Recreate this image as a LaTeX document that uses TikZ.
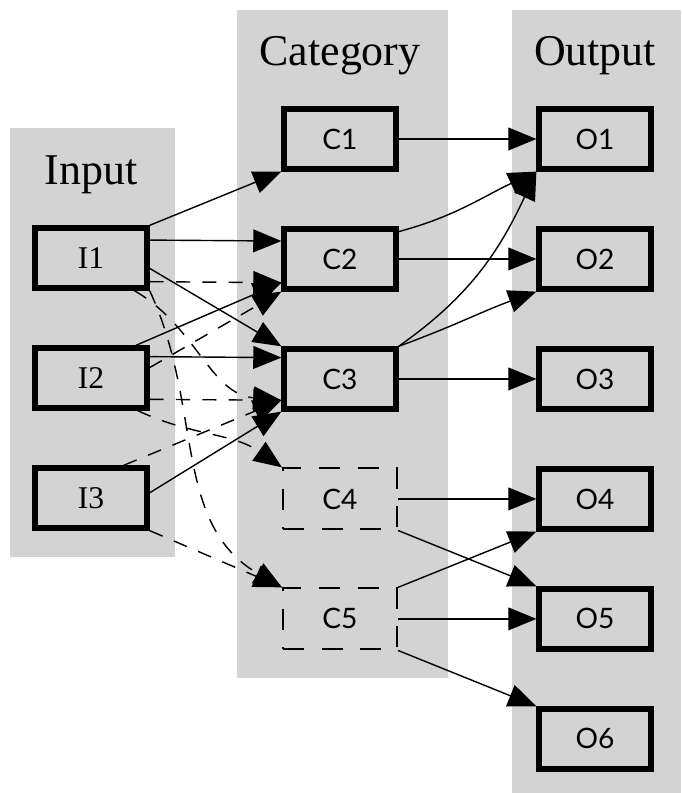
\documentclass[tikz,border=0pt]{standalone}
\usepackage{fontspec}
\setmainfont{Liberation Serif}
\newfontfamily\boxsans{Lato}
\usepackage{tikz}
\usetikzlibrary{positioning}
\usetikzlibrary{arrows.meta}
\definecolor{panelgray}{RGB}{211,211,211}
\tikzstyle{box} = [draw, line width=3pt, rectangle,
    minimum height=1.2cm, minimum width=2.24cm,
    font=\fontsize{18}{21}\selectfont]
\tikzstyle{sansbox} = [box, font=\boxsans\fontsize{16}{19}\selectfont]
\tikzstyle{dashbox} = [draw, line width=1.2pt, dash pattern=on 12pt off 10pt,
    rectangle, minimum height=1.22cm, minimum width=2.28cm,
    font=\boxsans\fontsize{16}{19}\selectfont]
\tikzstyle{title} = [font=\fontsize{25}{30}\selectfont, node distance=1.66cm]
\tikzstyle{link} = [line width=0.8pt, -{Triangle[length=16pt,width=13pt]}]
\tikzstyle{weaklink} = [link, dash pattern=on 8pt off 7pt]

\begin{document}
\begin{tikzpicture}[x=0.02cm, y=-0.02cm, node distance=2.4cm]
    \useasboundingbox (0,0) rectangle (681,793);
    % gray columns behind the three ranks
    \fill [panelgray] (10,128) rectangle (175,557);
    \fill [panelgray] (237,10) rectangle (448,678);
    \fill [panelgray] (512,10) rectangle (681,793);
    % We start by placing the blocks
    \node [box] (I1) at (91,258) {I1};
    \node [box, below of=I1] (I2) {I2};
    \node [box, below of=I2] (I3) {I3};
    \node [sansbox] (C1) at (340,139) {C1};
    \node [sansbox, below of=C1] (C2) {C2};
    \node [sansbox, below of=C2] (C3) {C3};
    \node [dashbox, below of=C3] (C4) {C4};
    \node [dashbox, below of=C4] (C5) {C5};
    \node [sansbox] (O1) at (595,139) {O1};
    \node [sansbox, below of=O1] (O2) {O2};
    \node [sansbox, below of=O2] (O3) {O3};
    \node [sansbox, below of=O3] (O4) {O4};
    \node [sansbox, below of=O4] (O5) {O5};
    \node [sansbox, below of=O5] (O6) {O6};
    % column titles
    \node [title, above of=I1] (input) {Input};
    \node [title, above of=C1] (category) {Category};
    \node [title, above of=O1] (output) {Output};
    % inputs to categories
    \draw [link] (I1.north east) -- (C1.south west);
    \draw [link] (I1.17) -- (C2.163);
    \draw [link] (I1.-10) -- (C3.north west);
    \draw [weaklink] (I1.-22) -- (C2.-158);
    \draw [weaklink] (I1.-37) to[out=-30,in=175] (C3.-160);
    \draw [weaklink] (I1.south east) to[out=-65,in=150] (C5.north west);
    \draw [link] (I2.36) -- (C2.-158);
    \draw [weaklink] (I2.10) -- (C2.south west);
    \draw [link] (I2.20) -- (C3.160);
    \draw [weaklink] (I2.-20) -- (C3.-160);
    \draw [weaklink] (I2.-35) to[out=-25,in=145] (C4.north west);
    \draw [weaklink] (I3.45) -- (C3.-160);
    \draw [link] (I3.5) -- (C3.south west);
    \draw [weaklink] (I3.south east) -- (C5.north west);
    % categories to outputs
    \draw [link] (C1) -- (O1);
    \draw [link] (C2.25) to[out=15,in=205] (O1.south west);
    \draw [link] (C2) -- (O2);
    \draw [link] (C3.north east) to[out=35,in=245] (O1.south west);
    \draw [link] (C3.north east) to[out=20,in=200] (O2.south west);
    \draw [link] (C3) -- (O3);
    \draw [link] (C4) -- (O4);
    \draw [link] (C4.south east) -- (O5.north west);
    \draw [link] (C5.north east) -- (O4.south west);
    \draw [link] (C5) -- (O5);
    \draw [link] (C5.south east) -- (O6.north west);
\end{tikzpicture}
\end{document}
